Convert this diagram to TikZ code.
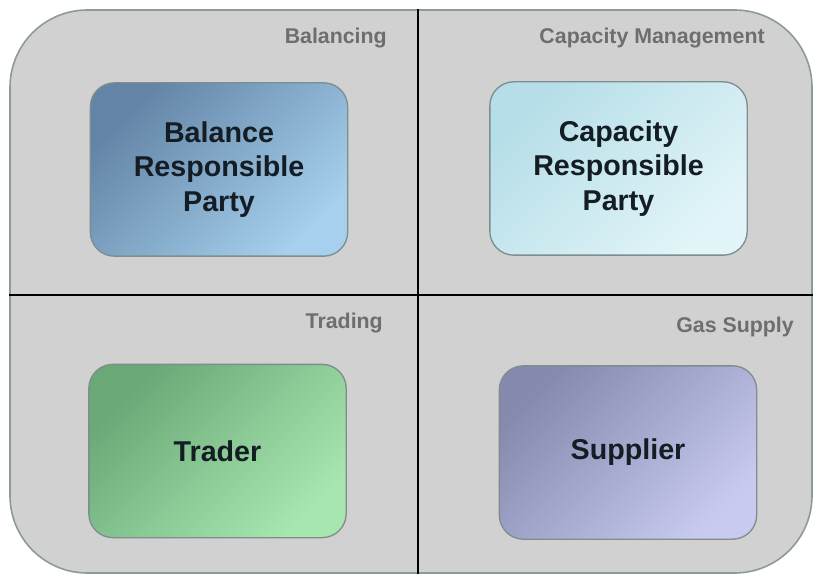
\documentclass[tikz,border=0pt]{standalone}
\usepackage{fontspec}
\setmainfont{Liberation Sans}
\usepackage{xcolor}
\usepackage{tikz}
\usetikzlibrary{positioning}

\definecolor{panelgray}{HTML}{D1D1D1}
\definecolor{framegray}{HTML}{8C9B97}
\definecolor{edgegray}{HTML}{7E8E8E}
\definecolor{labelgray}{HTML}{6E6E6E}
\definecolor{textdark}{HTML}{141C24}
\definecolor{brpdark}{HTML}{6384A6}
\definecolor{brplight}{HTML}{A6D0EE}
\definecolor{crpdark}{HTML}{B6DEE8}
\definecolor{crplight}{HTML}{E2F5F8}
\definecolor{trddark}{HTML}{6AA877}
\definecolor{trdlight}{HTML}{A8E6B0}
\definecolor{supdark}{HTML}{858AAE}
\definecolor{suplight}{HTML}{C8CAF0}

\begin{document}
\begin{tikzpicture}
  [x=0.75pt,y=0.75pt,every node/.style={rectangle, text centered, inner sep=0pt}]
\tikzset{%
frame/.style={draw=framegray,fill=panelgray,line width=1.2pt,rounded corners=58pt,minimum width=601.5pt,minimum height=422.25pt},
divider/.style={draw=black,line width=1.1pt},
area/.style={anchor=east,text=labelgray,font=\bfseries\fontsize{16}{19}\selectfont},
role/.style 2 args={draw=edgegray,line width=1pt,rounded corners=18pt,minimum width=193pt,minimum height=130pt,
  text width=185pt,text=textdark,font=\bfseries\fontsize{21.5}{25.6}\selectfont,
  top color=#1,bottom color=#2,shading angle=45}
}
\useasboundingbox (0,0) rectangle (813,575);
\node[frame] (frame) at (411,283.5) {};
\coordinate (cross) at (418,280);
\draw[divider] (cross |- frame.north) -- (cross |- frame.south);
\draw[divider] (cross -| frame.west) -- (cross -| frame.east);
% quadrant titles
\node[area] (bal) at (387,537) {Balancing};
\node[area] (cap) at (765,537) {Capacity Management};
\node[area] (trd) at (383,252) {Trading};
\node[area] (gas) at (794,248) {Gas Supply};
% roles
\node[role={brpdark}{brplight}] (brp) at (219,405.5) {Balance\\Responsible\\Party};
\node[role={crpdark}{crplight}] (crp) at (618.5,406.5) {Capacity\\Responsible\\Party};
\node[role={trddark}{trdlight}] (trader) at (217.5,124) {Trader};
\node[role={supdark}{suplight}] (supplier) at (628,122.5) {Supplier};
\end{tikzpicture}
\end{document}
